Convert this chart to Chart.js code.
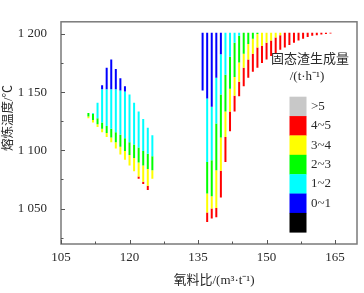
<!DOCTYPE html>
<html>
<head>
<meta charset="utf-8">
<script src="https://cdn.jsdelivr.net/npm/chart.js"></script>
<style>body{margin:0;background:#fff}</style>
</head>
<body>
<canvas id="myChart" width="364" height="293"></canvas>
<script>
// Daten: jede Säule = ein Oxygen-Verhältnis, Farbbänder nach Temperatur //
const oxygenRatio = [111,112,113,114,115,116,117,118,119,120,121,122,123,124,125,
  136,137,138,139,140,141,142,143,144,145,146,147,148,149,150,151,152,153,154,155,156,157,158,159,160,161,162,163,164];

// Oberkante jeder Säule
const topTemp = [1132,1132,1141,1156,1171,1178,1170,1162,1155,1148,1141,1133.5,1127,1119.5,1113,
  1201,1201,1201,1201,1201,1201,1201,1201,1201,1201,1201,1201,1201,1201,1201,1201,1201,1201,1201,1201,1201,1201,1201,1201,1201,1201,1201,1201,1201];
// Unterkante Band 0~1
const low01 = [1132,1132,1141,1152.5,1152.5,1152.5,1152.5,1151.5,1150.5,1148,1141,1133.5,1127,1119.5,1113,
  1151.5,1144.5,1137.5,1162.5,1182.5,1201,1201,1201,1201,1201,1201,1201,1201,1201,1201,1201,1201,1201,1201,1201,1201,1201,1201,1201,1201,1201,1201,1201,1201];
// Unterkante Band 1~2
const low12 = [1132,1131.5,1127.5,1124,1121,1118.5,1115.5,1113.5,1110.5,1107,1105,1102.5,1099.5,1097,1095,
  1151.5,1090,1091.5,1123,1148,1165,1180.5,1192.5,1198.5,1201,1201,1201,1201,1201,1201,1201,1201,1201,1201,1201,1201,1201,1201,1201,1201,1201,1201,1201,1201];
// Unterkante Band 2~3
const low23 = [1129,1126,1122.5,1118.5,1115,1111,1107,1103,1099.5,1096,1093.5,1089.5,1087,1084,1083,
  1151.5,1063,1060.5,1083,1111,1133.5,1153,1163,1175.5,1183,1191.5,1196,1200,1201,1201,1201,1201,1201,1201,1201,1201,1201,1201,1201,1201,1201,1201,1201,1201];
// Unterkante Band 3~4
const low34 = [1127.5,1124,1120,1115.5,1111.5,1107,1101.5,1096.5,1092,1087,1082,1077.5,1073,1069.5,1075.5,
  1151.5,1046.5,1050,1050.5,1082.5,1111.5,1133.5,1147,1159,1171,1178,1183,1188.5,1190,1192.5,1194.5,1197,1199,1201,1201,1201,1201,1201,1201,1201,1201,1201,1201,1201];
// Unterkante Band 4~5
const low45 = [1127.5,1124,1120,1115.5,1111.5,1107,1101.5,1096.5,1092,1087,1082,1075.5,1071,1066,1075.5,
  1151.5,1038.5,1041.5,1042.5,1059.5,1090,1116.5,1133.5,1146.5,1155,1162.5,1167.5,1171,1175,1178,1181,1183.5,1186.5,1188.5,1190.5,1192.5,1194.5,1196,1197.5,1198.5,1199,1199.5,1200,1200.5];

const bandLabels = ['>5', '4~5', '3~4', '2~3', '1~2', '0~1', ''];
const bandColors = ['#c8c8c8', '#ff0000', '#ffff00', '#00ff00', '#00ffff', '#0000ff', '#000000'];
const xTicks = [105, 120, 135, 150, 165];
const xMinor = [112.5, 127.5, 142.5, 157.5];
const yTicks = [1050, 1100, 1150, 1200];
const yMinor = [1025, 1075, 1125, 1175];

const serif = '"Liberation Serif", "Noto Sans CJK SC", serif';
const textColor = '#2a2a2a';

// baut ein Dataset aus Ober- und Unterkanten
function band(label, color, lowArr, highArr) {
    let data = [];
    for (let i = 0; i < oxygenRatio.length; i++) {
        if (highArr[i] - lowArr[i] > 0.01) {
            data.push({ x: oxygenRatio[i], y: [lowArr[i], highArr[i]] });
        }
    }
    return {
        label: label, data: data, backgroundColor: color,
        borderWidth: 0, inflateAmount: 0, barThickness: 2, grouped: false
    };
}

const datasets = [
    band('0~1', bandColors[5], low01, topTemp),
    band('1~2', bandColors[4], low12, low01),
    band('2~3', bandColors[3], low23, low12),
    band('3~4', bandColors[2], low34, low23),
    band('4~5', bandColors[1], low45, low34)
];

// Rahmen, Ticks nach innen, Achsentitel und Farblegende
const decoPlugin = {
    id: 'deco',
    afterDraw(chart) {
        const ctx = chart.ctx;
        const a = chart.chartArea;
        const xs = chart.scales.x, ys = chart.scales.y;
        ctx.save();
        ctx.strokeStyle = '#7a7a7a';
        ctx.lineWidth = 1.5;
        ctx.strokeRect(a.left, a.top, a.right - a.left, a.bottom - a.top);

        ctx.lineWidth = 1;
        ctx.strokeStyle = '#555';
        ctx.beginPath();
        xTicks.concat(xMinor).forEach(v => {
            const len = xTicks.includes(v) ? 4 : 2.5;
            const p = Math.round(xs.getPixelForValue(v)) + 0.5;
            ctx.moveTo(p, a.bottom);
            ctx.lineTo(p, a.bottom - len);
        });
        yTicks.concat(yMinor).forEach(v => {
            const len = yTicks.includes(v) ? 4 : 2.5;
            const p = Math.round(ys.getPixelForValue(v)) + 0.5;
            ctx.moveTo(a.left, p);
            ctx.lineTo(a.left + len, p);
        });
        ctx.stroke();

        // Achsentitel
        ctx.fillStyle = textColor;
        ctx.textAlign = 'center';
        ctx.textBaseline = 'middle';
        ctx.font = '13px ' + serif;
        ctx.fillText('氧料比/(m³·t⁻¹)', 214, 281);
        ctx.save();
        ctx.translate(9, 118);
        ctx.rotate(-Math.PI / 2);
        ctx.font = '12.5px ' + serif;
        ctx.fillText('熔炼温度/℃', 0, 0);
        ctx.restore();

        // Legende
        ctx.font = '13px ' + serif;
        ctx.fillText('固态渣生成量', 310, 60);
        ctx.fillText('/(t·h⁻¹)', 307, 77);
        const boxTop = 96.7, boxH = 19.37;
        ctx.textAlign = 'left';
        for (let i = 0; i < bandColors.length; i++) {
            ctx.fillStyle = bandColors[i];
            ctx.fillRect(289.5, boxTop + i * boxH, 17, boxH + 0.3);
            if (bandLabels[i]) {
                ctx.fillStyle = textColor;
                ctx.fillText(bandLabels[i], 311, boxTop + i * boxH + boxH / 2);
            }
        }
        ctx.restore();
    }
};

const chart = new Chart(document.getElementById('myChart'), {
    type: 'bar',
    data: { datasets: datasets },
    options: {
        responsive: false,
        animation: false,
        layout: { padding: { left: 0, right: 7, top: 6, bottom: 0 } },
        plugins: { legend: { display: false }, tooltip: { enabled: false } },
        scales: {
            x: {
                type: 'linear',
                min: 105, max: 169.8,
                offset: false,
                afterBuildTicks: s => { s.ticks = xTicks.map(v => ({ value: v })); },
                afterFit: s => { s.height = 49; },
                ticks: { color: textColor, padding: 6, font: { family: serif, size: 13 }, maxRotation: 0 },
                grid: { display: false, drawTicks: false },
                border: { display: false }
            },
            y: {
                min: 1019.5, max: 1210.5,
                afterBuildTicks: s => { s.ticks = yTicks.map(v => ({ value: v })); },
                afterFit: s => { s.width = 61; },
                ticks: {
                    color: textColor, padding: 14, font: { family: serif, size: 13 },
                    callback: v => String(v).replace(/(\d)(\d{3})$/, '$1 $2')
                },
                grid: { display: false, drawTicks: false },
                border: { display: false }
            }
        }
    },
    plugins: [decoPlugin]
});
</script>
</body>
</html>
